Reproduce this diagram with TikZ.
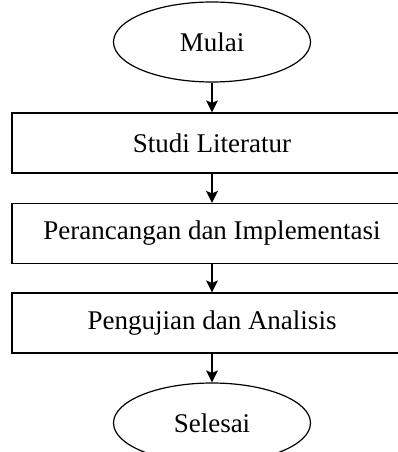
\documentclass[tikz,border=0pt]{standalone}
\usepackage{fontspec}
\setmainfont{Liberation Serif}
\usepackage{tikz}
\usetikzlibrary{shapes.geometric, arrows.meta}

\tikzset{
    terminal/.style={draw, ellipse, line width=1.2pt, minimum width=197pt, minimum height=80pt, inner sep=0pt, font=\fontsize{27}{31}\selectfont},
    process/.style={draw, rectangle, line width=1.2pt, minimum width=400pt, minimum height=60pt, inner sep=0pt, font=\fontsize{27}{31}\selectfont},
    flow/.style={-{Stealth[length=12pt, width=12pt, inset=2.5pt]}, line width=1.2pt}
}

\begin{document}
\begin{tikzpicture}[x=1pt, y=-1pt]
    \useasboundingbox (0, 0) rectangle (398, 452);

    % Start
    \node[terminal] (mulai) at (212, 42) {Mulai};

    % Steps
    \node[process] (studi) at (212, 143) {Studi Literatur};
    \node[process] (rancang) at (212, 233.5) {Perancangan dan Implementasi};
    \node[process] (uji) at (212, 323) {Pengujian dan Analisis};

    % End
    \node[terminal] (selesai) at (212, 423) {Selesai};

    % Flow
    \draw[flow] (mulai) -- (studi);
    \draw[flow] (studi) -- (rancang);
    \draw[flow] (rancang) -- (uji);
    \draw[flow] (uji) -- (selesai);

\end{tikzpicture}
\end{document}
